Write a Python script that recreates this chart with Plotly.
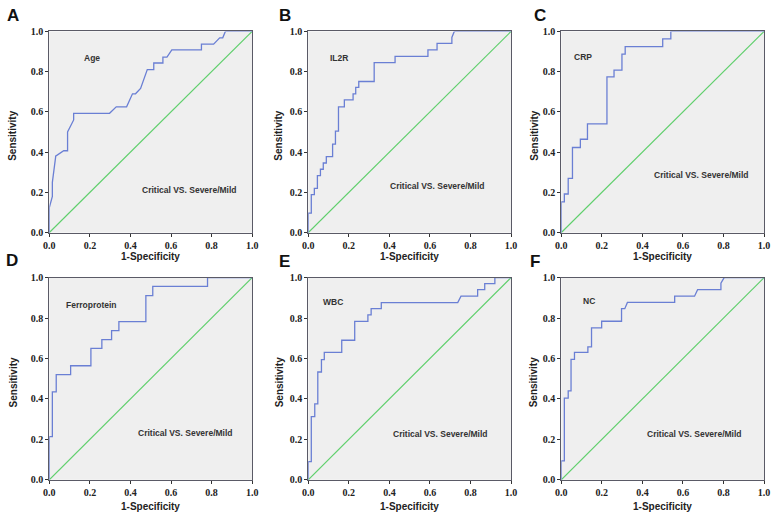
import plotly.graph_objects as go

# ROC curves (1-specificity, sensitivity)
age_x = [0, 0, 0.015, 0.015, 0.031, 0.031, 0.071, 0.09, 0.09, 0.12, 0.12, 0.297, 0.33, 0.381, 0.41, 0.425, 0.45, 0.483, 0.515, 0.515, 0.56, 0.56, 0.58, 0.604, 0.75, 0.75, 0.81, 0.84, 0.855, 0.868, 1.0]
age_y = [0, 0.124, 0.18, 0.25, 0.375, 0.38, 0.407, 0.407, 0.5, 0.56, 0.593, 0.593, 0.625, 0.625, 0.69, 0.69, 0.717, 0.81, 0.81, 0.843, 0.843, 0.872, 0.872, 0.908, 0.908, 0.937, 0.937, 0.968, 0.968, 1.0, 1.0]

il2r_x = [0, 0, 0.015, 0.015, 0.03, 0.03, 0.045, 0.045, 0.06, 0.06, 0.074, 0.074, 0.089, 0.089, 0.12, 0.12, 0.134, 0.134, 0.149, 0.149, 0.178, 0.178, 0.221, 0.221, 0.234, 0.234, 0.249, 0.249, 0.325, 0.325, 0.428, 0.428, 0.59, 0.59, 0.635, 0.635, 0.708, 0.708, 0.72, 1.0]
il2r_y = [0, 0.097, 0.097, 0.189, 0.189, 0.22, 0.22, 0.283, 0.283, 0.315, 0.315, 0.346, 0.346, 0.378, 0.378, 0.44, 0.44, 0.504, 0.504, 0.625, 0.625, 0.66, 0.66, 0.69, 0.69, 0.722, 0.722, 0.751, 0.751, 0.845, 0.845, 0.876, 0.876, 0.908, 0.908, 0.94, 0.94, 0.97, 1.0, 1.0]

crp_x = [0, 0, 0.015, 0.015, 0.034, 0.034, 0.055, 0.055, 0.094, 0.094, 0.129, 0.129, 0.225, 0.225, 0.26, 0.26, 0.299, 0.299, 0.315, 0.315, 0.5, 0.5, 0.54, 0.54, 1.0]
crp_y = [0, 0.153, 0.153, 0.192, 0.192, 0.27, 0.27, 0.423, 0.423, 0.464, 0.464, 0.54, 0.54, 0.774, 0.774, 0.808, 0.808, 0.887, 0.887, 0.924, 0.924, 0.963, 0.963, 1.0, 1.0]

ferro_x = [0, 0, 0.015, 0.015, 0.034, 0.034, 0.105, 0.105, 0.205, 0.205, 0.259, 0.259, 0.307, 0.307, 0.343, 0.343, 0.476, 0.476, 0.51, 0.51, 0.78, 0.78, 1.0]
ferro_y = [0, 0.213, 0.213, 0.435, 0.435, 0.52, 0.52, 0.564, 0.564, 0.65, 0.65, 0.693, 0.693, 0.738, 0.738, 0.782, 0.782, 0.911, 0.911, 0.956, 0.956, 1.0, 1.0]

wbc_x = [0, 0, 0.015, 0.015, 0.032, 0.032, 0.047, 0.047, 0.065, 0.065, 0.079, 0.079, 0.165, 0.165, 0.229, 0.229, 0.294, 0.294, 0.31, 0.31, 0.36, 0.36, 0.737, 0.753, 0.835, 0.835, 0.87, 0.87, 0.92, 0.92, 1.0]
wbc_y = [0, 0.09, 0.09, 0.312, 0.312, 0.375, 0.375, 0.533, 0.533, 0.594, 0.594, 0.63, 0.63, 0.69, 0.69, 0.783, 0.783, 0.816, 0.816, 0.846, 0.846, 0.876, 0.876, 0.908, 0.908, 0.94, 0.94, 0.97, 0.97, 1.0, 1.0]

nc_x = [0, 0, 0.015, 0.015, 0.034, 0.034, 0.048, 0.048, 0.065, 0.065, 0.131, 0.131, 0.149, 0.149, 0.199, 0.199, 0.297, 0.297, 0.313, 0.326, 0.559, 0.559, 0.657, 0.672, 0.787, 0.787, 0.803, 1.0]
nc_y = [0, 0.094, 0.094, 0.404, 0.404, 0.44, 0.44, 0.595, 0.595, 0.63, 0.63, 0.657, 0.657, 0.751, 0.751, 0.784, 0.784, 0.846, 0.846, 0.877, 0.877, 0.908, 0.908, 0.94, 0.94, 0.972, 1.0, 1.0]

letters = ['A', 'B', 'C', 'D', 'E', 'F']
markers = ['Age', 'IL2R', 'CRP', 'Ferroprotein', 'WBC', 'NC']
curves = [(age_x, age_y), (il2r_x, il2r_y), (crp_x, crp_y), (ferro_x, ferro_y), (wbc_x, wbc_y), (nc_x, nc_y)]
ticks = [0.0, 0.2, 0.4, 0.6, 0.8, 1.0]
tick_text = ['0.0', '0.2', '0.4', '0.6', '0.8', '1.0']

W, H = 778, 519
# plot boxes in pixels: (left, right, top, bottom)
boxes = [(44, 250, 26, 232), (307, 513, 26, 232), (564, 770, 26, 232),
         (44, 250, 278, 485), (307, 513, 278, 485), (564, 770, 278, 485)]
# label positions inside plots (x, y in data units)
mark_pos = [(0.21, 0.87), (0.15, 0.87), (0.107, 0.873), (0.207, 0.864), (0.12, 0.877), (0.137, 0.885)]
crit_pos = [(0.69, 0.21), (0.635, 0.233), (0.69, 0.286), (0.668, 0.233), (0.65, 0.228), (0.655, 0.228)]
letter_px = [(7, 10), (283, 10), (542, 10), (6, 261), (283, 262), (537, 262)]
sens_off = [37, 30, 27, 36, 29, 28]
spec_off = [24, 24, 24, 27, 27, 27]


def note(x, y, xref, yref, text, size, color, angle=0):
    return dict(x=x, y=y, xref=xref, yref=yref, text=text, textangle=angle, showarrow=False,
                xanchor='center', yanchor='middle',
                font=dict(family='Liberation Sans', size=size, color=color))


fig = go.Figure()
layout = {}
ann = []
for i in range(6):
    n = '' if i == 0 else str(i + 1)
    l, r, t, b = boxes[i]
    cx, cy = curves[i]
    fig.add_trace(go.Scatter(x=[0, 1], y=[0, 1], mode='lines', line=dict(color='#5fcf6c', width=1.2),
                             xaxis='x' + n, yaxis='y' + n, showlegend=False))
    fig.add_trace(go.Scatter(x=cx, y=cy, mode='lines', line=dict(color='#6a7fd4', width=1.3),
                             xaxis='x' + n, yaxis='y' + n, showlegend=False))
    ax = dict(range=[0, 1], tickvals=ticks, ticktext=tick_text, showgrid=False, zeroline=False,
              showline=True, linecolor='#5a5a66', linewidth=1, mirror=True,
              ticks='outside', ticklen=3, tickcolor='#333',
              tickfont=dict(family='Liberation Serif', size=10, color='#222', weight='bold'))
    layout['xaxis' + n] = dict(ax, domain=[l / W, r / W], anchor='y' + n)
    layout['yaxis' + n] = dict(ax, domain=[1 - b / H, 1 - t / H], anchor='x' + n)
    ann.append(note(mark_pos[i][0], mark_pos[i][1], 'x' + n, 'y' + n, '<b>' + markers[i] + '</b>', 8.5, '#333'))
    ann.append(note(crit_pos[i][0], crit_pos[i][1], 'x' + n, 'y' + n, '<b>Critical VS. Severe/Mild</b>', 8.5, '#333'))
    ann.append(note(letter_px[i][0] / W, 1 - letter_px[i][1] / H, 'paper', 'paper',
                    '<b>' + letters[i] + '</b>', 17, '#111'))
    ann.append(note((l - sens_off[i]) / W, 1 - ((t + b) / 2 + 4) / H, 'paper', 'paper',
                    '<b>Sensitivity</b>', 10, '#222', angle=-90))
    ann.append(note((l + r) / 2 / W, 1 - (b + spec_off[i]) / H, 'paper', 'paper',
                    '<b>1-Specificity</b>', 10, '#222'))

fig.update_layout(**layout)
fig.update_layout(width=W, height=H, autosize=False, margin=dict(l=0, r=0, t=0, b=0),
                  paper_bgcolor='white', plot_bgcolor='#efefef', annotations=ann)
fig.write_html("out.html", config={'displayModeBar': False},
               post_script="document.body.style.margin='0px';")
